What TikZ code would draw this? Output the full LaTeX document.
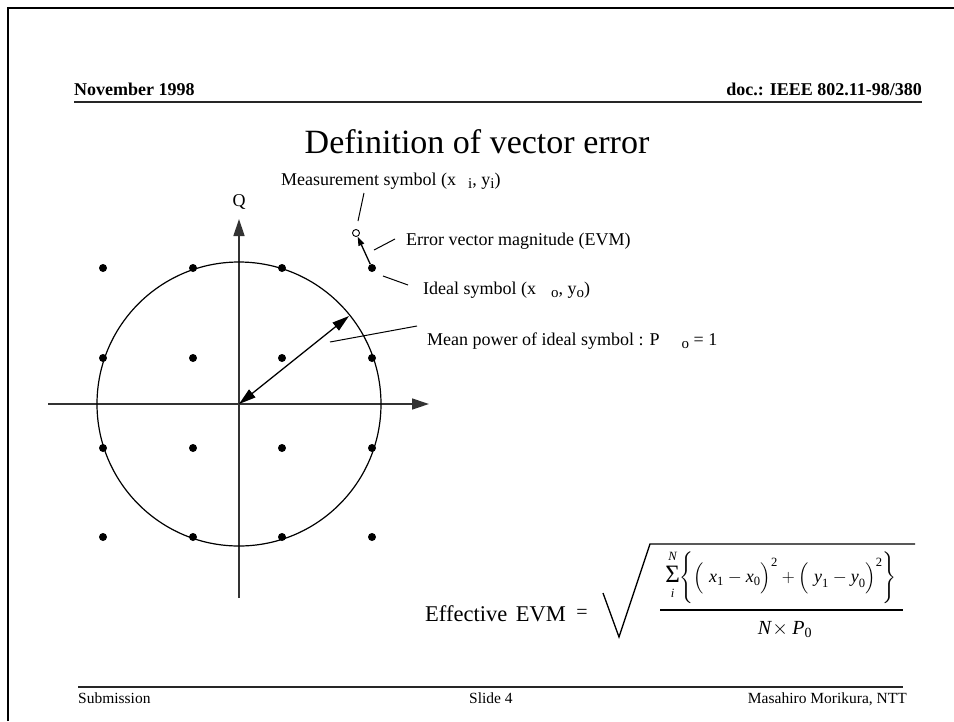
\RequirePackage{fix-cm}
\documentclass[tikz,border=0pt]{standalone}
\usepackage{amsmath}
\usepackage{exscale}
\usepackage{fontspec}
\setmainfont{Liberation Serif}
\usetikzlibrary{arrows.meta}
\newcommand\lsub[1]{\raisebox{-3pt}{\fontsize{15}{15}\selectfont #1}}
\newcommand\bigsum{\mathop{\text{\fontsize{25}{25}\selectfont\raisebox{0pt}[\dimexpr\height+2pt][\dimexpr\depth+4pt]{Σ}}}\limits}
\begin{document}
\begin{tikzpicture}[x=1pt,y=-1pt,
  lbl/.style={font=\fontsize{18}{21}\selectfont, inner sep=0pt, anchor=base west},
  hdr/.style={font=\fontsize{18}{21}\selectfont\bfseries, inner sep=0pt},
  ftr/.style={font=\fontsize{15.5}{18}\selectfont, inner sep=0pt},
  dotnode/.style={circle, fill=black, inner sep=0pt, minimum size=8pt},
  opendot/.style={circle, draw=black, fill=white, line width=0.9pt, inner sep=0pt, minimum size=7pt},
  leader/.style={line width=1pt},
  axis/.style={line width=1.4pt, draw=black!80, -{Triangle[length=17pt,width=11pt]}},
  rule/.style={line width=1.6pt, draw=black!85}
]
\useasboundingbox (0,0) rectangle (954,721);
% frame
\draw[line width=2.4pt] (8,721) -- (8,8) -- (954,8);
% header
\node[hdr, anchor=base west] (date) at (74,95) {November 1998};
\node[hdr, anchor=base east] (doc) at (922,95) {doc.: IEEE 802.11-98/380};
\coordinate (hl) at (74,102); \coordinate (hr) at (922,102);
\draw[rule] (hl) -- (hr);
% title
\node[inner sep=0pt, anchor=base, font=\fontsize{34}{40}\selectfont] (title) at (477,153) {Definition of vector error};
% axes
\coordinate (O) at (239,404);
\coordinate (xl) at (48,404); \coordinate (xr) at (429,404);
\coordinate (yb) at (239,598); \coordinate (yt) at (239,219);
\draw[axis] (xl) -- (xr);
\draw[axis] (yb) -- (yt);
\node[font=\fontsize{18}{21}\selectfont, inner sep=0pt] (Q) at (239,202) {Q};
% circle
\draw[line width=1.2pt] (O) circle[radius=142];
% constellation
\foreach \i/\x in {1/103,2/193,3/282,4/372}{
  \foreach \j/\y in {1/268,2/358,3/448,4/537}{
    \ifnum\i\j=41\relax\else
      \node[dotnode] (d\i\j) at (\x,\y) {};
    \fi
  }
}
\node[dotnode] (ideal) at (372,268) {};
\node[opendot] (meas) at (356,233) {};
\draw[line width=1.3pt, -{Triangle[length=9pt,width=6pt]}] (ideal) -- (meas);
% radius arrow
\coordinate (rp) at (349,316);
\draw[line width=1.3pt, {Triangle[length=17pt,width=10pt]}-{Triangle[length=17pt,width=10pt]}] (O) -- (rp);
% labels
\node[lbl] (measlbl) at (281,185) {Measurement symbol (x\hspace{12pt}\lsub{i}, y\lsub{i})};
\node[lbl] (evmlbl) at (406,245) {Error vector magnitude (EVM)};
\node[lbl] (ideallbl) at (423,294) {Ideal symbol (x\hspace{15pt}\lsub{o}, y\lsub{o})};
\node[lbl] (meanlbl) at (427,345) {Mean power of ideal symbol : P\hspace{22pt}\lsub{o} = 1};
% leader lines
\coordinate (m1) at (364,193); \coordinate (m2) at (358,221);
\draw[leader] (m1) -- (m2);
\coordinate (e1) at (374,250); \coordinate (e2) at (395,239);
\draw[leader] (e1) -- (e2);
\coordinate (i1) at (383,276); \coordinate (i2) at (408,285);
\draw[leader] (i1) -- (i2);
\coordinate (p1) at (330,342); \coordinate (p2) at (417,326);
\draw[leader] (p1) -- (p2);
% formula
\node[inner sep=0pt, anchor=base west, font=\fontsize{22.5}{26}\selectfont] (eff) at (425,621) {Effective\hspace{3pt} EVM};
\node[inner sep=0pt, font=\fontsize{20}{24}\selectfont] (eq) at (582,614) {=};
\coordinate (r1) at (603,593); \coordinate (r2) at (619,637);
\coordinate (r3) at (650,544); \coordinate (r4) at (915,544);
\draw[line width=1.3pt, line join=miter] (r1) -- (r2) -- (r3) -- (r4);
\node[inner sep=0pt, font=\fontsize{18}{21}\selectfont] (num) at (781,578)
  {$\bigsum_{\textit{i}}^{\textit{N}}\Biggl\{\Bigl(\;\textit{x}_{\text{1}}-\textit{x}_{\text{0}}\Bigr)^{\text{2}}+\Bigl(\;\textit{y}_{\text{1}}-\textit{y}_{\text{0}}\Bigr)^{\text{2}}\Biggr\}$};
\coordinate (fl) at (660,610); \coordinate (fr) at (903,610);
\draw[line width=1.3pt] (fl) -- (fr);
\node[inner sep=0pt, font=\fontsize{20}{24}\selectfont] (den) at (785,630)
  {$\textit{N}\!\times \textit{P}_{\text{0}}$};
% footer
\coordinate (fll) at (78,687); \coordinate (flr) at (903,687);
\draw[rule] (fll) -- (flr);
\node[ftr, anchor=base west] (sub) at (78,703) {Submission};
\node[ftr, anchor=base west] (slide) at (469,703) {Slide 4};
\node[ftr, anchor=base east] (auth) at (907,703) {Masahiro Morikura, NTT};
\end{tikzpicture}
\end{document}
